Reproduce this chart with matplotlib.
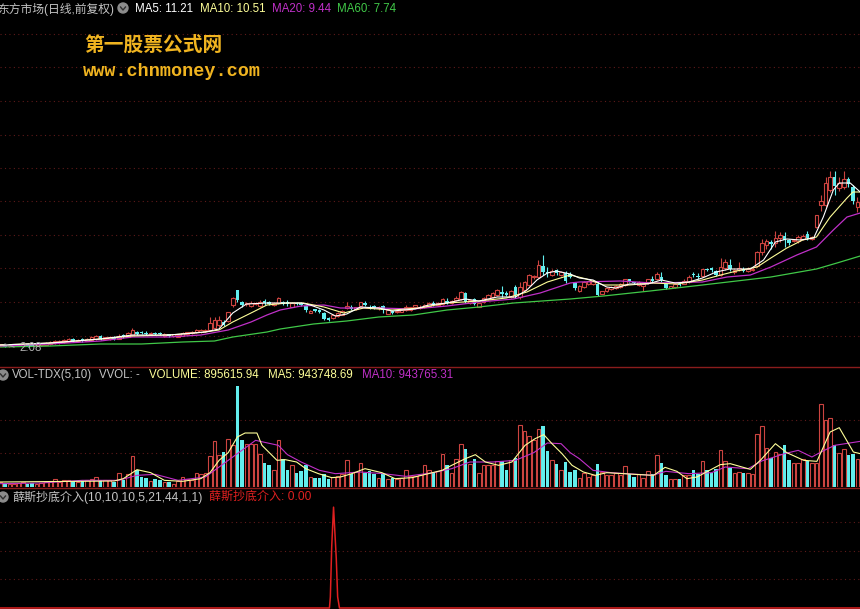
import matplotlib
matplotlib.use("Agg")
import matplotlib.pyplot as plt
from matplotlib.patches import Circle
from matplotlib.transforms import IdentityTransform
import numpy as np

plt.rcParams['font.family'] = ['Liberation Sans', 'Noto Sans CJK SC', 'DejaVu Sans']

# candles, in chart height units (the price axis is not labelled)
BODY_LOW = [21,20,21,21,21,21,21,21,22,22, 22,23,24,24,25,25,26,26,26,26,
            27,28,28,28,28,28,28,30,30,32, 33,34,33,33,33,33,31,31,31,30,
            31,33,34,35,35,36,37,39,42,42, 46,62,67,62,63,61,63,61,64,63,
            62,64,63,63,60,63,62,57,54,56, 55,48,47,49,51,52,59,58,58,61,
            62,59,59,59,57,53,54,55,55,57, 57,60,59,60,61,62,62,63,64,64,
            67,68,65,64,63,60,65,68,70,72, 73,72,70,72,70,77,82,90,90,95,
            94,92,94,92,86,90,79,76,80,83, 83,72,73,76,78,79,80,82,86,84,
            82,81,84,86,88,87,79,79,80,82, 83,85,92,90,91,97,97,92,92,99,
            98,95,97,96,96,97,101,115,122,123, 124,129,127,124,126,126,128,129,128,140,
            162,162,177,181,179,180,183,166,160]
BODY_HIGH = [23,22,22,23,22,23,22,22,23,23, 24,25,26,26,27,28,28,27,28,28,
             30,31,31,30,30,30,31,32,34,37, 35,35,34,34,34,34,33,33,33,32,
             34,35,35,37,37,37,44,47,47,45, 55,69,77,65,64,64,64,65,66,65,
             64,69,65,65,64,64,64,61,56,58, 57,54,49,52,54,56,61,60,60,65,
             64,60,61,60,61,57,56,56,57,60, 60,62,60,62,64,64,64,68,66,66,
             69,75,74,67,68,64,69,72,74,77, 75,74,76,80,80,85,92,91,102,101,
             95,96,97,95,94,93,84,81,85,86, 86,83,76,79,80,81,83,88,88,85,
             85,83,88,88,93,90,83,81,83,83, 86,90,93,91,98,98,99,96,100,105,
             102,97,99,98,98,98,115,124,126,125, 129,132,131,127,127,130,131,133,130,152,
             166,184,190,190,184,188,188,180,165]
LOWS = [21,20,20,21,21,21,20,21,21,21, 22,22,23,23,24,25,25,25,25,26,
        27,27,27,27,27,27,28,29,30,31, 32,33,32,32,32,32,30,30,30,30,
        31,32,33,34,34,35,36,38,40,41, 45,60,65,60,61,60,62,60,62,62,
        61,63,62,61,60,62,61,55,54,55, 54,47,46,48,50,52,58,57,57,60,
        61,58,58,57,54,53,53,54,55,56, 56,59,58,59,60,61,61,62,63,63,
        66,67,64,63,62,60,64,67,69,71, 70,71,69,69,68,75,81,88,89,92,
        90,91,92,91,84,89,77,75,79,82, 82,71,73,75,77,78,79,81,85,83,
        81,76,83,84,87,85,78,79,79,81, 83,84,90,88,90,96,95,91,91,97,
        96,93,96,95,95,96,100,112,118,118, 120,125,120,122,125,124,127,127,127,139,
        156,160,175,172,176,178,180,163,155]
HIGHS = [23,23,23,23,23,24,23,23,24,24, 25,26,27,27,28,29,29,28,29,29,
         31,32,32,30,31,31,33,33,35,39, 36,36,36,35,35,35,34,33,33,33,
         35,35,36,38,38,38,50,50,51,47, 55,70,77,66,65,66,65,67,68,66,
         65,70,66,67,65,65,65,62,57,58, 58,55,50,53,55,57,65,62,60,65,
         66,62,62,61,62,57,57,57,57,62, 60,62,62,63,65,66,65,69,69,67,
         71,76,75,68,69,64,70,73,75,78, 81,76,77,82,85,86,93,92,107,112,
         100,98,98,96,96,95,85,82,86,86, 87,86,76,80,81,82,84,88,88,85,
         86,83,88,91,95,95,84,81,83,84, 88,92,95,94,98,99,100,97,109,108,
         108,98,105,100,100,100,116,128,128,127, 136,135,135,128,128,132,133,136,131,152,
         172,190,196,196,190,196,190,182,170]
DOWN_DAYS = [1,6,7,16,18,22,25,27,30,31,32,34,35,37,49,52,53,58,59,62,63,65,66,67,69,70,71,72,
             77,80,81,82,84,86,95,98,102,104,110,111,113,119,120,122,124,125,126,131,138,139,
             143,145,146,149,152,153,155,156,157,160,163,169,172,173,177,183,186,187]

# price moving averages, read at the days where the line turns
MA5_DAYS = [0,11,22,29,37,40,45,48,51,54,58.5,63,66,68,71,73.5,76,79,83,86,91,94,98,102,105,109,113,
            115.5,117.7,120,122,125,127,130,133,135,138,142,145,148,151,154,157,160,164.5,167.4,170,
            172.5,175.4,178.4,180.5,182.7,184,186.4,188.6]
MA5_VALUES = [22,24,28,32,32,33,35,38,54,63,64,64,64,62,57,51,53,60,59,56,58,62,64,68,66,70,70,
              77,87,94,96,93,89,87,80,79,83,83,87,84,85,89,95,98,98,107,125,
              128,127,129,150,177,184,184,175]
MA10_DAYS = [0,11,22,29,37,45,48,51,55,58.5,63,66.5,71,75.3,79.7,86,92,98,105,111,115.5,120,125,128.6,
             132.3,138,143,148.4,154,158,161.5,166,169,172.5,176,179,182,185.7,187,188.6]
MA10_VALUES = [22,24,28,31,32,35,37,45,54,62,64,64,60,54,59,57,59,64,66,69,75,85,92,88,
               82,82,84,83,87,92,96,100,109,119,127,130,150,169,175,175]
MA20_DAYS = [0,11,22,29,37,44,50,55,58.5,61.4,66,71,74.6,83,90.6,98,105,112.6,118.4,125,127,136,143,154,
             159.4,164.5,169,174.7,179,182.7,185.7,188.6]
MA20_VALUES = [21,23,26,30,30,32,37,45,52,57,61,62,59,59,58,61,65,68,74,84,85,86,84,85,
               90,92,100,112,120,137,150,154]
MA60_DAYS = [0,11,22,31,40,47,51,58.5,61.4,68.7,76,83,90.6,98,105,112.6,125,132.3,142.5,154,161.5,169,179,183.5,188.6]
MA60_VALUES = [20,21,23,23,25,26,30,35,38,43,46,50,52,57,60,64,68,71,76,82,86,90,98,104,111]

# volume, in units of 10 000 lots
VOLUME = [15,12,10,10,12,15,10,12,10,12, 14,17,25,15,20,22,18,15,18,20,
          25,30,20,20,20,15,42,22,38,92, 52,30,26,18,25,22,15,15,10,18,
          30,25,22,42,38,42,92,137,95,105, 145,125,302,142,130,128,128,100,72,65,
          52,140,85,50,65,42,47,65,30,27, 27,40,25,30,32,38,80,38,45,72,
          42,48,38,28,40,25,28,25,28,50, 32,32,35,65,50,45,48,100,65,42,
          85,128,115,68,85,42,65,65,65,78, 78,52,80,88,185,167,152,140,175,182,
          107,80,68,50,75,45,50,27,42,30, 35,68,45,35,35,42,35,62,40,30,
          38,27,47,38,95,73,35,23,23,23, 35,35,50,38,77,50,43,55,110,78,
          58,42,45,42,42,38,160,184,118,88, 105,100,125,80,72,72,85,78,72,72,
          250,200,208,125,102,115,95,100,85]
VOL_MA5_DAYS = [0,25,27,30,33,36,40,44,46,48,50,52,53.7,56.3,57.4,60.7,62.5,65,67,69.8,72.7,74.6,77.1,80,83.7,
                86.6,90.3,93.9,96.9,99,102,104.2,106.4,109.3,112.2,115.1,117.3,119.2,121,123.2,125.4,127.9,
                130.5,133,136.7,140.4,143.3,145.8,148.4,150.6,152.8,155.7,157.9,160.1,164.5,166.7,170,172.5,
                176.2,179.1,182,184,187.1,188.6]
VOL_MA5_VALUES = [15,18,25,52,43,20,17,25,43,80,103,150,162,162,125,80,82,75,55,40,28,30,40,55,43,
                  25,28,40,50,65,85,97,75,65,75,125,145,157,130,100,65,45,
                  35,43,40,37,35,59,47,25,30,51,67,70,53,80,130,103,
                  80,77,165,178,105,100]
VOL_MA10_DAYS = [0,9,18,26,30,34,39,45,48,52,56,61,63,66,70,73.5,79,84,89,95,99,103,108,113,117,120,123,125,
                 127,130,134,143,146,151,156,159,164,167,172,175,178,180,183,188.6]
VOL_MA10_VALUES = [10,12,20,20,35,38,20,30,60,100,140,125,97,75,50,40,45,40,32,43,55,75,75,80,103,132,130,103,
                   85,50,43,35,47,40,43,60,55,78,100,110,90,105,125,137]

# signal panel
SIGNAL_DAYS = [0,72.2,72.4,72.7,73.1,73.7,74.0,74.4,188.6]
SIGNAL_VALUES = [0,0,11,61,100,49,11,0,0]

PRICE_GRID = [31.5,65,98.7,132.3,165.7,199,232.4,266,299.6,333.2]
VOL_GRID = [103,202]
SIGNAL_GRID = [29,57,85]

RED = '#cc4440'
CYAN = '#62eeee'
GRID = '#5e1a1a'
LINE = '#8a1c1c'
GREY = '#c4c4c4'
YELLOW = '#ffff99'
MAGENTA = '#c030c8'
GREEN = '#40c848'
W, H = 860, 609

days = np.arange(len(VOLUME))
down = np.isin(days, DOWN_DAYS)
up = ~down
body_low = np.array(BODY_LOW)
body_high = np.array(BODY_HIGH)
lows = np.array(LOWS)
highs = np.array(HIGHS)
volume = np.array(VOLUME)

fig = plt.figure(figsize=(W / 100, H / 100), dpi=100, facecolor='black')


def panel(top, bottom, ymin, ymax, grid):
    ax = fig.add_axes([0, 1 - bottom / H, 1, (bottom - top) / H], facecolor='black')
    ax.set_xlim(-0.044, 188.55)
    ax.set_ylim(ymin, ymax)
    ax.set_xticks([])
    ax.set_yticks(grid)
    ax.tick_params(left=False, labelleft=False)
    ax.grid(axis='y', color=GRID, lw=0.8, ls=(0, (1, 3)))
    ax.set_axisbelow(True)
    for s in ax.spines.values():
        s.set_visible(False)
    return ax


ax1 = panel(0, 367, 0, 367, PRICE_GRID)
ax2 = panel(367, 487, 0, 360, VOL_GRID)
ax3 = panel(489, 609, -1, 118, SIGNAL_GRID)

# candles
ax1.vlines(days[down], lows[down], highs[down], color=CYAN, lw=0.8, zorder=2)
ax1.vlines(days[up], lows[up], body_low[up], color=RED, lw=0.8, zorder=2)
ax1.vlines(days[up], body_high[up], highs[up], color=RED, lw=0.8, zorder=2)
ax1.bar(days[down], body_high[down] - body_low[down], bottom=body_low[down], width=0.78, color=CYAN, zorder=3)
ax1.bar(days[up], body_high[up] - body_low[up], bottom=body_low[up], width=0.78,
        facecolor='black', edgecolor=RED, lw=0.8, zorder=3)
ax1.plot(MA60_DAYS, MA60_VALUES, color=GREEN, lw=0.9, zorder=4)
ax1.plot(MA20_DAYS, MA20_VALUES, color=MAGENTA, lw=0.9, zorder=4)
ax1.plot(MA10_DAYS, MA10_VALUES, color=YELLOW, lw=0.8, zorder=5)
ax1.plot(MA5_DAYS, MA5_VALUES, color='white', lw=0.8, zorder=6)

# volume
ax2.bar(days[down], volume[down], width=0.78, color=CYAN, zorder=3)
ax2.bar(days[up], volume[up], width=0.78, facecolor='black', edgecolor=RED, lw=0.8, zorder=3)
ax2.plot(VOL_MA10_DAYS, VOL_MA10_VALUES, color=MAGENTA, lw=0.8, zorder=4)
ax2.plot(VOL_MA5_DAYS, VOL_MA5_VALUES, color=YELLOW, lw=0.8, zorder=5)

# signal
ax3.plot(SIGNAL_DAYS, SIGNAL_VALUES, color='#e02020', lw=1.1, zorder=3)

# panel separators
for y in (367, 488):
    fig.add_artist(plt.Line2D([0, 1], [1 - y / H, 1 - y / H], color=LINE, lw=1))


def label(x, y, s, color=GREY, size=8.3, **kw):
    fig.text(x / W, 1 - y / H, s, color=color, fontsize=size, va='center', ha='left', **kw)


def icon(x, y):
    # round grey button with a small chevron
    fig.add_artist(Circle((x, H - y), 5, color='#8c8c8c', transform=IdentityTransform()))
    fig.add_artist(plt.Line2D([(x - 2.5) / W, x / W, (x + 2.5) / W],
                              [1 - (y - 1) / H, 1 - (y + 2) / H, 1 - (y - 1) / H], color='#303030', lw=1))


label(-3, 9, '东方市场(日线,前复权)', size=8.5)
icon(123, 8)
label(135, 9, 'MA5: 11.21', color='white')
label(200, 9, 'MA10: 10.51', color=YELLOW)
label(272, 9, 'MA20: 9.44', color=MAGENTA)
label(337, 9, 'MA60: 7.74', color=GREEN)

label(84, 45, '第一股票公式网', color='#f0b420', size=14.2, fontweight='bold')
label(83, 71, 'www.chnmoney.com', color='#f0b420', size=13.3, fontweight='bold', family='Liberation Mono')

label(19, 348, '2.08', color='#b0b0b0')
fig.add_artist(plt.Line2D([5 / W, 14 / W], [1 - 344 / H, 1 - 347 / H], color='#a8a8a8', lw=0.8))

icon(3, 375)
label(12, 375, 'VOL-TDX(5,10)')
label(99, 375, 'VVOL: -')
label(149, 375, 'VOLUME: 895615.94', color=YELLOW)
label(268, 375, 'MA5: 943748.69', color=YELLOW)
label(362, 375, 'MA10: 943765.31', color=MAGENTA)

icon(3, 497)
label(12, 497, '薛斯抄底介入(10,10,10,5,21,44,1,1)', size=8.65)
label(209, 497, '薛斯抄底介入: 0.00', color='#e02020', size=8.65)

fig.savefig('out.png', dpi=100, facecolor='black')
